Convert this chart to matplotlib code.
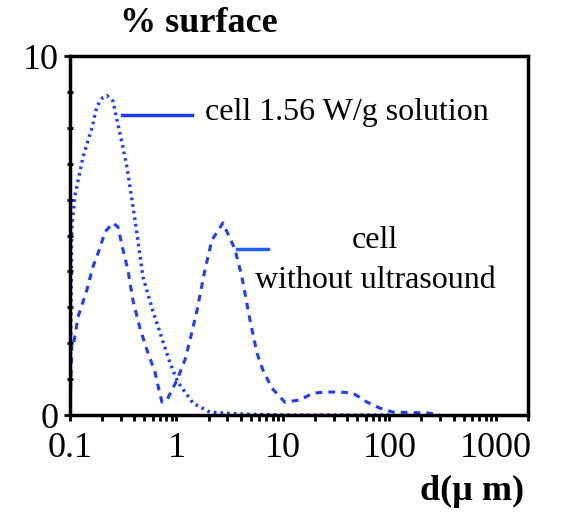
import matplotlib
matplotlib.use("Agg")
import matplotlib.pyplot as plt
from matplotlib.ticker import FixedLocator, NullFormatter

plt.rcParams['font.family'] = ['Liberation Serif', 'DejaVu Serif']

# size distribution, cell at 1.56 W/g (solution)
d_sol = [0.1, 0.102, 0.104, 0.111, 0.133, 0.161, 0.179, 0.204, 0.222, 0.253,
         0.282, 0.315, 0.343, 0.382, 0.426, 0.484, 0.60, 0.70, 0.87, 1.03,
         1.43, 2.06, 3.9, 10, 30, 105]
s_sol = [0.0, 2.5, 5.2, 6.1, 7.2, 8.0, 8.6, 8.85, 8.9, 8.75,
         8.1, 7.45, 6.9, 6.0, 5.05, 3.85, 2.9, 2.3, 1.45, 0.92,
         0.33, 0.08, 0.03, 0.0, 0.0, 0.0]

# size distribution, cell without ultrasound
d_raw = [0.1, 0.104, 0.107, 0.119, 0.144, 0.164, 0.191, 0.213, 0.253, 0.282,
         0.315, 0.350, 0.390, 0.454, 0.540, 0.628, 0.685, 0.731, 0.814, 1.01,
         1.20, 1.34, 1.56, 1.85, 2.15, 2.73, 3.54, 4.12, 4.90, 5.70,
         6.49, 7.88, 10.4, 14.5, 19.1, 25.9, 34.3, 45.4, 61.5, 81.5,
         108, 225, 298]
s_raw = [0.0, 1.95, 1.9, 2.73, 3.48, 4.12, 4.65, 5.10, 5.35, 5.24,
         4.60, 4.04, 3.20, 2.42, 1.73, 1.20, 0.70, 0.36, 0.42, 0.97,
         1.53, 2.09, 2.92, 4.04, 4.87, 5.35, 4.62, 3.84, 2.65, 1.73,
         1.25, 0.75, 0.36, 0.42, 0.61, 0.64, 0.64, 0.61, 0.36, 0.19,
         0.08, 0.06, 0.0]

x_ticks = [0.1, 1, 10, 100, 1000]
x_labels = ['0.1', '1', '10', '100', '1000']
y_ticks = [0, 10]

blue = '#1e3cff'

fig = plt.figure(figsize=(5.63, 5.18), dpi=100)
ax = fig.add_axes([0.1243, 0.1988, 0.8135, 0.693])

ax.plot(d_sol, s_sol, color=blue, lw=2.4, linestyle=(0, (0.8, 1.2)))
ax.plot(d_raw, s_raw, color=blue, lw=2.2, linestyle=(0, (2.2, 2.0)))

ax.set_xscale('log')
ax.set_xlim(0.1, 2000)
ax.set_ylim(0, 10)

ax.set_xticks(x_ticks)
ax.set_xticklabels(x_labels)
ax.xaxis.set_minor_formatter(NullFormatter())
ax.set_yticks(y_ticks)
ax.yaxis.set_minor_locator(FixedLocator(range(1, 10)))

ax.tick_params(axis='both', which='major', labelsize=26, width=2, length=4,
               direction='out', pad=4)
ax.tick_params(axis='x', which='minor', width=2, length=4, direction='out')
ax.tick_params(axis='y', which='minor', width=2, length=4, direction='inout')
ax.tick_params(axis='x', which='major', pad=8)
for sp in ax.spines.values():
    sp.set_linewidth(2.5)

# leader lines and curve labels
ax.plot([0.1135, 0.266], [0.836, 0.836], transform=ax.transAxes,
        color=blue, lw=2.5)
ax.text(0.295, 0.844, 'cell 1.56 W/g solution', transform=ax.transAxes,
        fontsize=23, va='center', ha='left')
ax.plot([0.365, 0.432], [0.462, 0.462], transform=ax.transAxes,
        color='#1f60ff', lw=2.5)
ax.text(0.666, 0.485, 'cell', transform=ax.transAxes,
        fontsize=23, va='center', ha='center')
ax.text(0.666, 0.376, 'without ultrasound', transform=ax.transAxes,
        fontsize=23, va='center', ha='center')

fig.text(0.353, 0.955, '% surface', fontsize=26, fontweight='bold',
         ha='center', va='center')
fig.text(0.838, 0.052, 'd(µ m)', fontsize=26, fontweight='bold',
         ha='center', va='center')

fig.savefig('out.png', dpi=100)
